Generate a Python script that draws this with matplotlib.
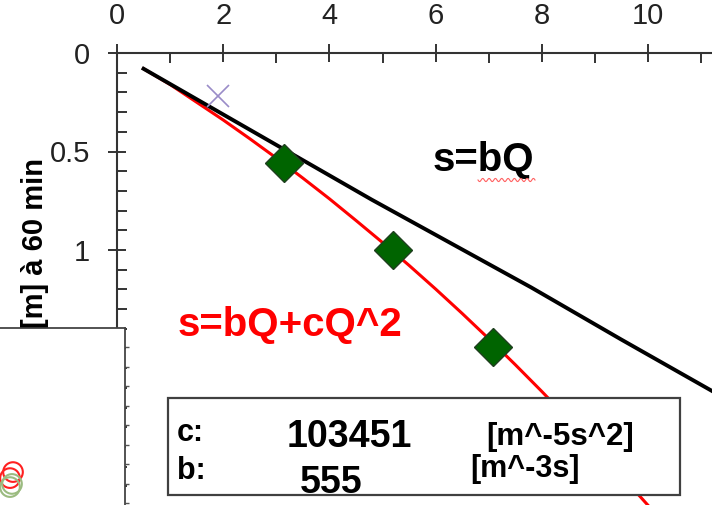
import numpy as np
import matplotlib
matplotlib.use("Agg")
import matplotlib.pyplot as plt
from matplotlib.patches import Rectangle

plt.rcParams['font.family'] = ['Liberation Sans', 'DejaVu Sans']

# Q on x axis, drawdown s on y axis
q_line = [0.5, 4.8, 7.8, 9.5, 11.3]
s_line = [0.08, 0.745, 1.19, 1.455, 1.73]          # s = bQ

q_curve = [0.5, 1, 1.5, 2, 2.5, 3, 3.5, 4, 4.5, 5, 5.5, 6, 6.5, 7, 7.5, 8, 8.5, 9, 9.5, 10, 10.5]
s_curve = [0.08, 0.16, 0.25, 0.34, 0.435, 0.533, 0.635, 0.74, 0.85, 0.962, 1.078, 1.198,
           1.322, 1.45, 1.582, 1.718, 1.858, 2.0, 2.146, 2.296, 2.45]   # s = bQ + cQ^2

q_meas = [3.15, 5.19, 7.08]
s_meas = [0.56, 1.0, 1.49]

q_cross = [1.9]
s_cross = [0.22]

c_value = "103451"
b_value = "555"

# circles of the other chart peeking out at bottom left
other_x = [0.13, 0.10, 0.10, 0.12]
other_y = [1.59, 1.28, 0.82, 0.98]
other_col = ['#ff2020', '#ff2020', '#9bbb80', '#9bbb80']

fig = plt.figure(figsize=(7.12, 5.05), dpi=100)
ax = fig.add_axes([117/712, 0, 595/712, 452/505])
ax.set_xlim(0, 595/53.1)
ax.set_ylim(452/197, 0)

ax.plot(q_curve, s_curve, color='red', lw=2.2, zorder=2)
ax.plot(q_line, s_line, color='black', lw=2.8, zorder=3)
ax.plot(q_meas, s_meas, 'D', ms=19, mfc='#006400', mec='#1f3f1f', mew=1, zorder=4)
ax.plot(q_cross, s_cross, 'x', ms=16, color='#9a8cc8', mew=1.2, zorder=4)

for side in ['right', 'bottom']:
    ax.spines[side].set_visible(False)
for side in ['left', 'top']:
    ax.spines[side].set_color('#333333')
    ax.spines[side].set_linewidth(1.5)

ax.xaxis.tick_top()
ax.set_xticks([0, 2, 4, 6, 8, 10])
ax.set_xticks([1, 3, 5, 7, 9, 11], minor=True)
ax.set_yticks([0, 0.5, 1, 1.5, 2])
ax.set_yticklabels(['0', '0.5', '1', '1.5', '2'])
ax.set_yticks(np.arange(0.1, 2.3, 0.1), minor=True)
ax.tick_params(which='major', direction='inout', length=13, width=1.4,
               color='#333333', labelsize=21, labelcolor='#222222')
ax.tick_params(which='minor', direction='in', length=7, width=1.4, color='#333333')
ax.tick_params(axis='x', which='major', pad=10)
ax.tick_params(axis='y', which='major', pad=13)


def pxd(x, y):
    return (x - 117) / 53.1, (y - 53) / 197


ax.text(*pxd(433, 160), 's=bQ', fontsize=29, weight='bold', va='center', ha='left', zorder=6)
wx = np.linspace(478, 535, 80)
wy = 180 + 1.6 * np.sin((wx - 478) / 57 * 2 * np.pi * 9)
ax.plot((wx - 117) / 53.1, (wy - 53) / 197, color='#ff6060', lw=0.8, zorder=6)
ax.text(*pxd(178, 325), 's=bQ+cQ^2', fontsize=29, weight='bold', color='red',
        va='center', ha='left', zorder=6)

x0, y0 = pxd(168, 398)
x1, y1 = pxd(680, 495)
ax.add_patch(Rectangle((x0, y0), x1 - x0, y1 - y0, facecolor='white',
                       edgecolor='#404040', lw=1.6, zorder=5))
ax.text(*pxd(177, 433), 'c:', fontsize=22, weight='bold', va='center', zorder=6)
ax.text(*pxd(349, 437), c_value, fontsize=27, weight='bold', va='center', ha='center', zorder=6)
ax.text(*pxd(560, 437), '[m^-5s^2]', fontsize=22.5, weight='bold', va='center', ha='center', zorder=6)
ax.text(*pxd(177, 471), 'b:', fontsize=22, weight='bold', va='center', zorder=6)
ax.text(*pxd(331, 483), b_value, fontsize=27, weight='bold', va='center', ha='center', zorder=6)
ax.text(*pxd(525, 469), '[m^-3s]', fontsize=22, weight='bold', va='center', ha='center', zorder=6)

fig.text(35/712, 1 - 158/505, '[m] à 60 min', rotation=90, ha='center', va='top',
         fontsize=21, weight='bold')

# overlapping chart at bottom left
ov = fig.add_axes([0, 0, 125/712, 177/505])
ov.set_facecolor('white')
ov.set_xlim(0, 1.25)
ov.set_ylim(-0.1, 8.98)
for side in ['left', 'bottom']:
    ov.spines[side].set_visible(False)
for side in ['top', 'right']:
    ov.spines[side].set_color('#444444')
    ov.spines[side].set_linewidth(1.3)
ov.set_xticks([])
ov.yaxis.tick_right()
ov.set_yticks(range(0, 9))
ov.tick_params(axis='y', direction='out', length=3, width=1, color='#555555', labelright=False)
ov.scatter(other_x, other_y, s=200, facecolors='none', edgecolors=other_col, linewidths=1.5,
           clip_on=False)

fig.savefig('out.png', dpi=100)
